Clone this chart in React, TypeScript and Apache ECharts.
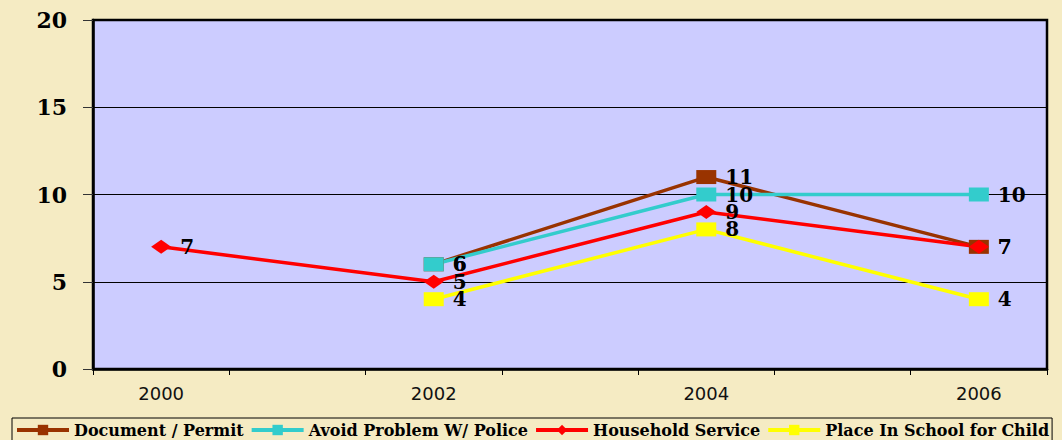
import React, { useEffect, useRef } from "react";
import * as echarts from "echarts";

const years = ["2000", "2001", "2002", "2003", "2004", "2005", "2006"];
const documentPermit = [null, null, 6, null, 11, null, 7];
const avoidPolice = [null, null, 6, null, 10, null, 10];
const householdService = [7, null, 5, null, 9, null, 7];
const placeInSchool = [null, null, 4, null, 8, null, 4];
const yTicks = [0, 5, 10, 15, 20];

const serif = "'DejaVu Serif', 'Liberation Serif', serif";

export default function App() {
  const ref = useRef<HTMLDivElement>(null);
  useEffect(() => {
    if (!ref.current) return;
    const chart = echarts.init(ref.current, null, { renderer: "svg" });
    const mk = (name: string, data: (number | null)[], color: string, symbol: string) => ({
      name,
      type: "line",
      data,
      connectNulls: true,
      symbol,
      symbolSize: [20, 14],
      showAllSymbol: true,
      lineStyle: { color, width: 3.5 },
      itemStyle: { color, borderWidth: 0 },
      label: {
        show: true,
        position: "right",
        distance: 9,
        color: "#000",
        fontFamily: serif,
        fontWeight: "bold",
        fontSize: 20,
      },
    });
    chart.setOption({
      animation: false,
      backgroundColor: "#F5EBC3",
      grid: {
        left: 93,
        right: 15,
        top: 20,
        bottom: 71,
        show: true,
        backgroundColor: "#CCCCFF",
        borderColor: "#000",
        borderWidth: 2.5,
      },
      legend: {
        bottom: -8,
        left: 12,
        width: 1045,
        padding: [4, 3, 10, 3],
        borderColor: "#000",
        borderWidth: 1,
        itemWidth: 52,
        itemHeight: 13,
        itemGap: 6,
        lineStyle: { width: 4 },
        textStyle: { fontFamily: serif, fontWeight: "bold", fontSize: 16, color: "#000" },
        data: ["Document / Permit", "Avoid Problem W/ Police", "Household Service", "Place In School for Child"],
      },
      xAxis: {
        type: "category",
        data: years,
        boundaryGap: true,
        axisLine: { lineStyle: { color: "#000", width: 2.5 } },
        axisTick: { show: true, interval: 0, length: 6, lineStyle: { color: "#000", width: 1 } },
        axisLabel: {
          interval: 1,
          margin: 15,
          fontFamily: "'DejaVu Sans', 'Liberation Sans', sans-serif",
          fontSize: 18,
          color: "#111",
        },
      },
      yAxis: {
        type: "value",
        min: yTicks[0],
        max: yTicks[yTicks.length - 1],
        interval: 5,
        axisLine: { show: true, lineStyle: { color: "#000", width: 2.5 } },
        axisTick: { show: true, length: 10, lineStyle: { color: "#333", width: 1 } },
        splitLine: { show: true, lineStyle: { color: "#000", width: 1 } },
        axisLabel: {
          margin: 26,
          fontFamily: serif,
          fontWeight: "bold",
          fontSize: 22,
          color: "#000",
        },
      },
      series: [
        mk("Document / Permit", documentPermit, "#993300", "rect"),
        mk("Avoid Problem W/ Police", avoidPolice, "#33CCCC", "rect"),
        mk("Household Service", householdService, "#FF0000", "diamond"),
        mk("Place In School for Child", placeInSchool, "#FFFF00", "rect"),
      ],
    });
    return () => chart.dispose();
  }, []);
  return <div ref={ref} style={{ position: "fixed", left: 0, top: 0, width: 1062, height: 440 }} />;
}
